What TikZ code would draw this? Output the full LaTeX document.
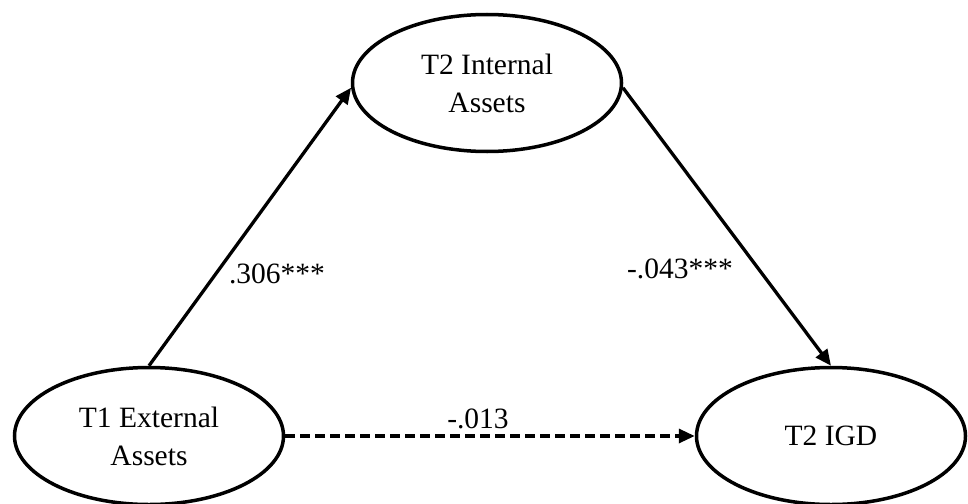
\documentclass[tikz,border=0pt]{standalone}
\usepackage{fontspec}
\setmainfont{Liberation Serif}
\usetikzlibrary{arrows.meta,shapes.geometric}

\begin{document}
\begin{tikzpicture}[x=1pt,y=-1pt,
  construct/.style={ellipse,draw,line width=3.5pt,minimum width=269pt,minimum height=137pt,
    inner sep=0pt,align=center,font=\fontsize{29.5}{38}\selectfont},
  path/.style={line width=3.3pt,-{Triangle[length=16pt,width=14pt]}},
  coef/.style={font=\fontsize{29.5}{34}\selectfont,inner sep=0pt,anchor=base}]
  \useasboundingbox (0,0) rectangle (968,503);

  % latent constructs
  \node[construct] (int) at (487,83) {T2 Internal\\Assets};
  \node[construct] (ext) at (149,436) {T1 External\\Assets};
  \node[construct] (igd) at (831,436) {T2 IGD};

  % structural paths
  \draw[path] (ext.north) -- (int.182);
  \draw[path] (int.-2) -- (igd.north);
  \draw[path,dash pattern=on 10pt off 5pt] (ext.east) -- (igd.west);

  % path coefficients
  \node[coef] (a) at (277,283) {.306***};
  \node[coef] (b) at (680,278) {-.043***};
  \node[coef] (c) at (478,428) {-.013};
\end{tikzpicture}
\end{document}
